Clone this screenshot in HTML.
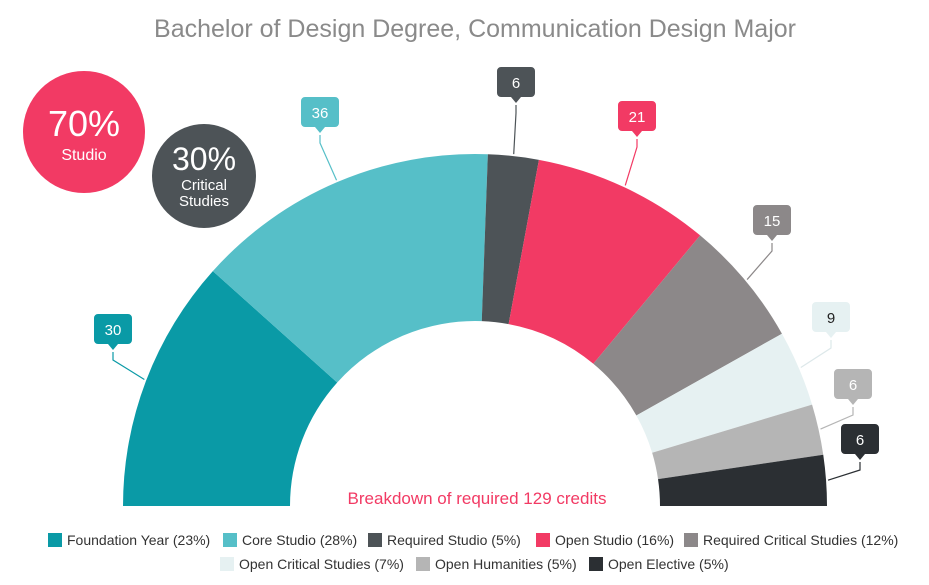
<!DOCTYPE html>
<html><head><meta charset="utf-8"><style>
body{margin:0;background:#fff;width:929px;height:580px;overflow:hidden;font-family:"Liberation Sans",sans-serif}
</style></head><body>
<svg id="s" width="929" height="580" xmlns="http://www.w3.org/2000/svg" font-family="Liberation Sans, sans-serif">
<text x="475" y="37" text-anchor="middle" font-size="25" fill="#8a8a8a">Bachelor of Design Degree, Communication Design Major</text>
<circle cx="84" cy="132" r="61" fill="#f23a64"/>
<text x="84" y="136" text-anchor="middle" font-size="36" fill="#fff">70%</text>
<text x="84" y="160" text-anchor="middle" font-size="16" fill="#fff">Studio</text>
<circle cx="204" cy="176" r="52" fill="#4d5357"/>
<text x="204" y="170" text-anchor="middle" font-size="32" fill="#fff">30%</text>
<text x="204" y="190" text-anchor="middle" font-size="15" fill="#fff">Critical</text>
<text x="204" y="206" text-anchor="middle" font-size="15" fill="#fff">Studies</text>
<g id="pie"></g>
<text x="477" y="504" text-anchor="middle" font-size="17" fill="#f23a64">Breakdown of required 129 credits</text>
<g font-size="14" fill="#333">
<rect x="48" y="533" width="14" height="14" fill="#0a9aa6"/><text x="67" y="545">Foundation Year (23%)</text>
<rect x="223" y="533" width="14" height="14" fill="#56bfc8"/><text x="242" y="545">Core Studio (28%)</text>
<rect x="368" y="533" width="14" height="14" fill="#4d5357"/><text x="387" y="545">Required Studio (5%)</text>
<rect x="536" y="533" width="14" height="14" fill="#f23a64"/><text x="555" y="545">Open Studio (16%)</text>
<rect x="684" y="533" width="14" height="14" fill="#8c8889"/><text x="703" y="545">Required Critical Studies (12%)</text>
<rect x="220" y="557" width="14" height="14" fill="#e6f1f2"/><text x="239" y="569">Open Critical Studies (7%)</text>
<rect x="416" y="557" width="14" height="14" fill="#b5b5b5"/><text x="435" y="569">Open Humanities (5%)</text>
<rect x="589" y="557" width="14" height="14" fill="#2b2f33"/><text x="608" y="569">Open Elective (5%)</text>
</g>
</svg>
<script>
var cx=475,cy=506,R=352,r=185;
var vals=[30,36,6,21,15,9,6,6];
var cols=["#0a9aa6","#56bfc8","#4d5357","#f23a64","#8c8889","#e6f1f2","#b5b5b5","#2b2f33"];
var txt=["#fff","#fff","#fff","#fff","#fff","#222","#fff","#fff"];
var lab=[[113,330],[320,113],[516,83],[637,117],[772,221],[831,318],[853,385],[860,440]];
var g=document.getElementById("pie"),h="";
function P(a,rad){a=a*Math.PI/180;return [cx-rad*Math.cos(a),cy-rad*Math.sin(a)];}
var c=0;
for(var i=0;i<8;i++){
 var a0=c/129*180;c+=vals[i];var a1=c/129*180;
 var p0=P(a0,R),p1=P(a1,R),q1=P(a1,r),q0=P(a0,r);
 h+='<path d="M'+p0+' A'+R+','+R+' 0 0 1 '+p1+' L'+q1+' A'+r+','+r+' 0 0 0 '+q0+' Z" fill="'+cols[i]+'"/>';
 var m=P((a0+a1)/2,R+2),L=lab[i];
 var lc=(i==5)?"#dde8ea":cols[i];
 h+='<polyline points="'+L[0]+','+(L[1]+22)+' '+L[0]+','+(L[1]+30)+' '+m+'" fill="none" stroke="'+lc+'" stroke-width="1.2"/>';
 h+='<path d="M'+(L[0]-15)+','+(L[1]-16)+' h30 a4,4 0 0 1 4,4 v22 a4,4 0 0 1 -4,4 h-10 l-5,6 l-5,-6 h-10 a4,4 0 0 1 -4,-4 v-22 a4,4 0 0 1 4,-4Z" fill="'+cols[i]+'"/>';
 h+='<text x="'+L[0]+'" y="'+(L[1]+5)+'" text-anchor="middle" font-size="15" fill="'+txt[i]+'">'+vals[i]+'</text>';
}
g.innerHTML=h;
</script>
</body></html>
